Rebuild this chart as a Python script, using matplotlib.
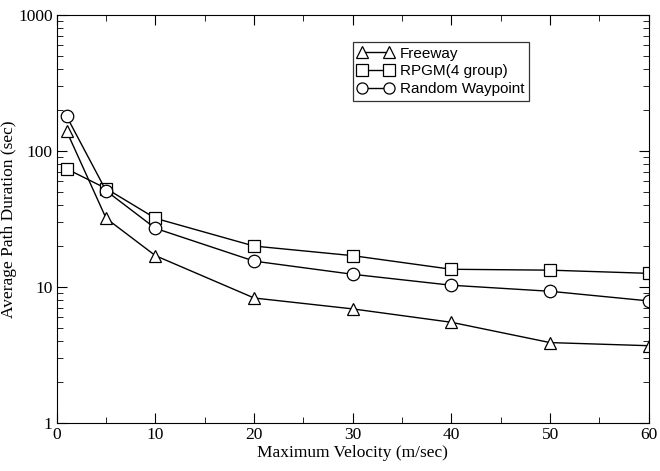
import matplotlib
matplotlib.use('Agg')
import matplotlib.pyplot as plt
from matplotlib.ticker import FixedLocator, NullFormatter

plt.rcParams['font.family'] = ['Liberation Serif', 'DejaVu Serif']

velocity = [1, 5, 10, 20, 30, 40, 50, 60]
freeway = [140, 32, 17, 8.3, 6.9, 5.5, 3.9, 3.7]
rpgm = [74, 53, 32, 20, 17, 13.5, 13.3, 12.6]
rwp = [180, 51, 27, 15.5, 12.4, 10.3, 9.3, 7.9]

fig, ax = plt.subplots(figsize=(6.6, 4.71), dpi=100)
fig.subplots_adjust(left=0.086, right=0.983, top=0.968, bottom=0.102)

style = dict(color='black', lw=1, mfc='white', mec='black', ms=9, mew=0.9)
ax.plot(velocity, freeway, marker='^', label='Freeway', **style)
ax.plot(velocity, rpgm, marker='s', label='RPGM(4 group)', **style)
ax.plot(velocity, rwp, marker='o', label='Random Waypoint', **style)

ax.set_yscale('log')
ax.set_xlim(0, 60)
ax.set_ylim(1, 1000)
ax.set_xticks(range(0, 61, 10))
ax.set_yticks([1, 10, 100, 1000])
ax.set_yticklabels(['1', '10', '100', '1000'])
ax.yaxis.set_minor_locator(FixedLocator([m * 10**e for e in range(0, 3) for m in range(2, 10)]))
ax.yaxis.set_minor_formatter(NullFormatter())
ax.xaxis.set_minor_locator(FixedLocator(range(5, 60, 10)))
ax.tick_params(which='both', direction='in', top=True, right=True, labelsize=12.5, pad=3)
ax.tick_params(which='major', length=7)
ax.tick_params(which='minor', length=4)

ax.set_xlabel('Maximum Velocity (m/sec)', fontsize=12.5, labelpad=1)
ax.set_ylabel('Average Path Duration (sec)', fontsize=12.5, labelpad=1)

leg = ax.legend(loc='upper left', bbox_to_anchor=(0.5, 0.934),
                prop={'family': ['Liberation Sans', 'DejaVu Sans'], 'size': 11},
                fancybox=False, edgecolor='black', handlelength=2.4, numpoints=2,
                borderpad=0.3, labelspacing=0.25, handletextpad=0.4, borderaxespad=0)
leg.get_frame().set_linewidth(0.9)
for h in leg.legend_handles:
    h.set_markersize(8)

fig.savefig('out.png')
